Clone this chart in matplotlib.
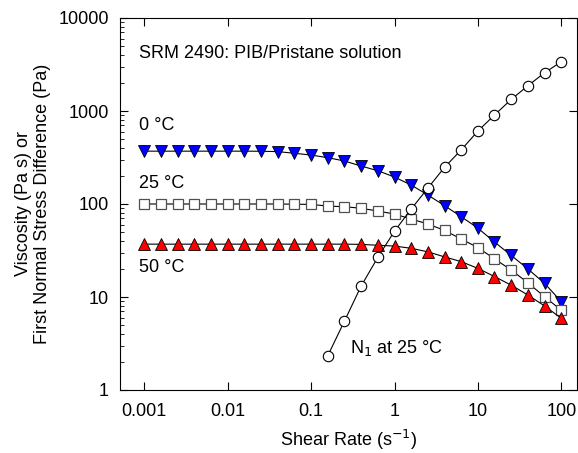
import numpy as np
import matplotlib
matplotlib.use('Agg')
import matplotlib.pyplot as plt
from matplotlib.ticker import LogLocator, FixedLocator, FixedFormatter, NullLocator

plt.rcParams['font.family'] = ['Liberation Sans', 'DejaVu Sans']

## Data
# shear rate: 5 points per decade, 0.001 .. 100
shear_rate = [0.001, 0.00158, 0.00251, 0.00398, 0.00631,
              0.01, 0.0158, 0.0251, 0.0398, 0.0631,
              0.1, 0.158, 0.251, 0.398, 0.631,
              1, 1.58, 2.51, 3.98, 6.31,
              10, 15.8, 25.1, 39.8, 63.1, 100]

visc_0C = [370, 370, 370, 370, 370, 370, 370, 369, 366, 351,
           336, 315, 290, 256, 228, 195, 160, 125, 96, 73,
           55, 39, 28, 20, 14, 8.9]
visc_25C = [100, 100, 100, 100, 100, 100, 100, 100, 100, 99.5,
            99, 95, 93.5, 90, 84, 78, 69, 61, 52, 42,
            34, 25.7, 19.5, 14.2, 10.05, 7.2]
visc_50C = [37, 37, 37, 37, 37, 37, 37, 37, 37, 37,
            37, 37, 37, 36.8, 36, 35.3, 33.4, 30.6, 27, 24,
            20.3, 16.6, 13.4, 10.5, 8.0, 5.9]

n1_rate = [0.158, 0.251, 0.398, 0.631, 1, 1.58, 2.51, 3.98, 6.31,
           10, 15.8, 25.1, 39.8, 63.1, 100]
n1_25C = [2.32, 5.5, 13.1, 26.7, 51, 88, 148, 248, 382,
          609, 905, 1333, 1870, 2580, 3390]

x_ticks = [0.001, 0.01, 0.1, 1, 10, 100]
x_ticklabels = ['0.001', '0.01', '0.1', '1', '10', '100']
y_ticks = [1, 10, 100, 1000, 10000]
y_ticklabels = ['1', '10', '100', '1000', '10000']

FS = 13

## Figure
fig = plt.figure(figsize=(5.78, 4.53), dpi=100)
ax = fig.add_axes([120/578, 1-390/453, 457/578, 372/453])

ax.plot(shear_rate, visc_0C, '-', color='black', lw=0.8, marker='v', ms=8.5,
        mfc='#0000ff', mec='black', mew=0.6)
ax.plot(shear_rate, visc_25C, '-', color='black', lw=0.8, marker='s', ms=7.5,
        mfc='white', mec='#505050', mew=0.9)
ax.plot(shear_rate, visc_50C, '-', color='black', lw=0.8, marker='^', ms=8.5,
        mfc='#ff0000', mec='black', mew=0.6)
ax.plot(n1_rate, n1_25C, '-', color='black', lw=0.8, marker='o', ms=7.5,
        mfc='white', mec='black', mew=0.8)

ax.set_xscale('log')
ax.set_yscale('log')
ax.set_xlim(10**-3.291, 10**2.188)
ax.set_ylim(1, 10000)

## Ticks
ax.xaxis.set_major_locator(FixedLocator(x_ticks))
ax.xaxis.set_major_formatter(FixedFormatter(x_ticklabels))
ax.xaxis.set_minor_locator(NullLocator())
ax.yaxis.set_major_locator(FixedLocator(y_ticks))
ax.yaxis.set_major_formatter(FixedFormatter(y_ticklabels))
ax.yaxis.set_minor_locator(LogLocator(base=10, subs=np.arange(2, 10)))
ax.tick_params(which='major', direction='in', length=6, width=0.8,
               top=True, right=True, labelsize=FS)
ax.tick_params(axis='x', which='major', pad=9)
ax.tick_params(axis='y', which='major', pad=8)
ax.tick_params(which='minor', direction='in', length=3, width=0.6,
               left=True, right=False)
for s in ax.spines.values():
    s.set_linewidth(0.8)

## Labels
ax.set_xlabel('Shear Rate (s$^{-1}$)', fontsize=FS, labelpad=6)
ax.set_ylabel('Viscosity (Pa s) or\nFirst Normal Stress Difference (Pa)',
              fontsize=FS, labelpad=5, linespacing=1.15)

## Annotations
ax.text(0.00086, 10**((390-53)/93), 'SRM 2490: PIB/Pristane solution',
        fontsize=FS, va='center')
ax.text(0.00086, 10**((390-125)/93), '0 °C', fontsize=FS, va='center')
ax.text(0.00086, 10**((390-183)/93), '25 °C', fontsize=FS, va='center')
ax.text(0.00086, 10**((390-267)/93), '50 °C', fontsize=FS, va='center')
ax.text(0.293, 10**((390-348)/93), 'N$_1$ at 25 °C', fontsize=FS, va='center')

fig.savefig('out.png', dpi=100)
